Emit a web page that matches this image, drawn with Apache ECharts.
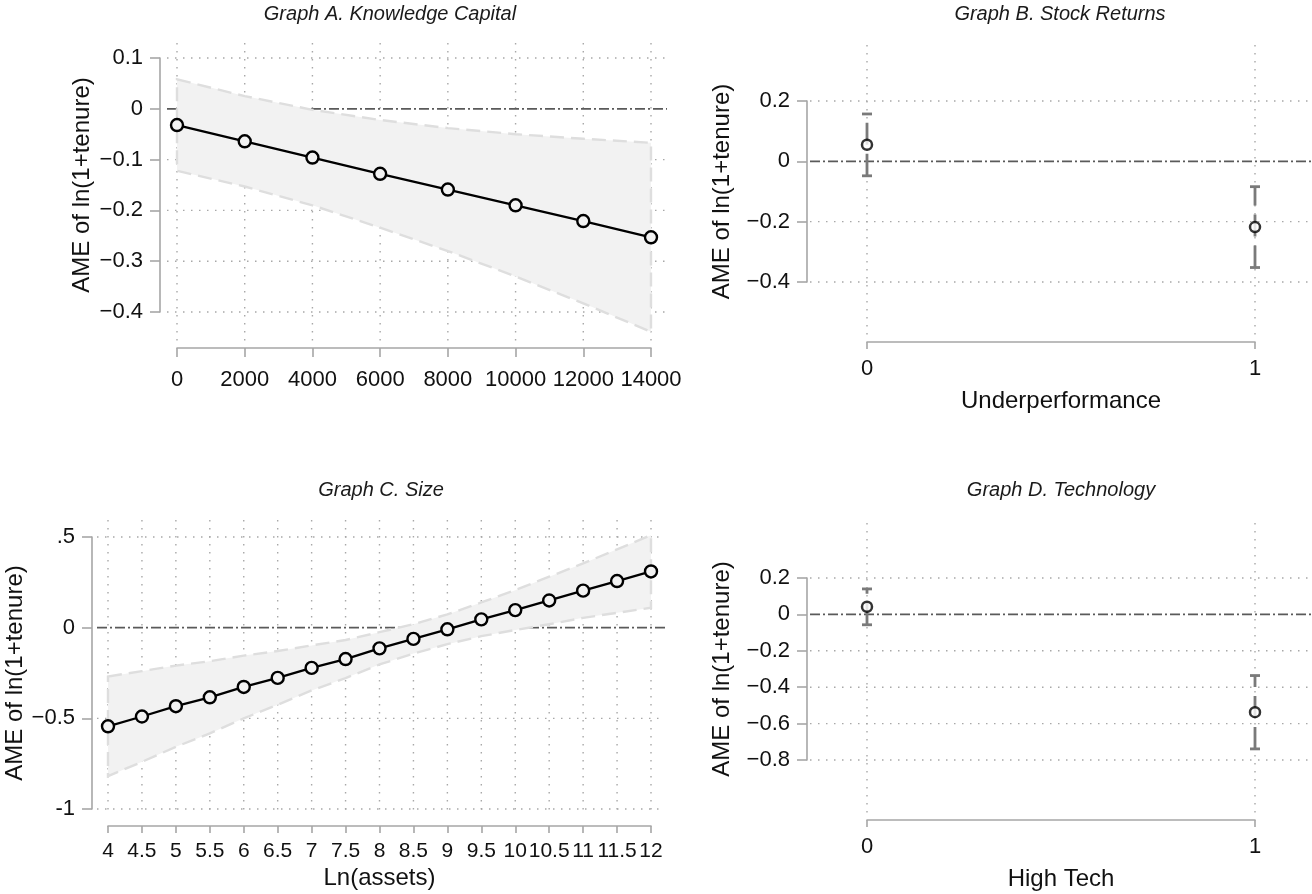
<!DOCTYPE html>
<html>
<head>
<meta charset="utf-8">
<script src="https://cdn.jsdelivr.net/npm/echarts@6/dist/echarts.min.js"></script>
<style>
  html, body { margin: 0; background: #fff; }
  #chart { width: 1312px; height: 894px; }
</style>
</head>
<body>
<div id="chart"></div>
<script>
// Graph A. Knowledge Capital
const aX = [0, 2000, 4000, 6000, 8000, 10000, 12000, 14000];
const aEst = [-0.032, -0.064, -0.096, -0.128, -0.159, -0.190, -0.221, -0.253];
const aHi = [0.058, 0.025, -0.002, -0.022, -0.038, -0.050, -0.059, -0.067];
const aLo = [-0.122, -0.153, -0.190, -0.234, -0.280, -0.330, -0.383, -0.439];
const aYTicks = [-0.4, -0.3, -0.2, -0.1, 0, 0.1];
const aYLabels = ['\u22120.4', '\u22120.3', '\u22120.2', '\u22120.1', '0', '0.1'];

// Graph B. Stock Returns
const bX = [0, 1];
const bEst = [0.055, -0.218];
const bLo = [-0.048, -0.352];
const bHi = [0.157, -0.084];
const bYTicks = [-0.4, -0.2, 0, 0.2];
const bYLabels = ['\u22120.4', '\u22120.2', '0', '0.2'];

// Graph C. Size
const cX = [4, 4.5, 5, 5.5, 6, 6.5, 7, 7.5, 8, 8.5, 9, 9.5, 10, 10.5, 11, 11.5, 12];
const cEst = [-0.544, -0.490, -0.433, -0.384, -0.327, -0.277, -0.222, -0.173, -0.114,
              -0.062, -0.009, 0.046, 0.097, 0.150, 0.204, 0.257, 0.310];
const cHi = [-0.269, -0.240, -0.209, -0.185, -0.154, -0.129, -0.098, -0.068, -0.025,
             0.019, 0.073, 0.139, 0.207, 0.281, 0.354, 0.432, 0.510];
const cLo = [-0.819, -0.740, -0.657, -0.583, -0.500, -0.425, -0.346, -0.278, -0.203,
             -0.143, -0.091, -0.047, -0.013, 0.019, 0.054, 0.082, 0.110];
const cYTicks = [-1, -0.5, 0, 0.5];
const cYLabels = ['-1', '\u22120.5', '0', '.5'];

// Graph D. Technology
const dX = [0, 1];
const dEst = [0.042, -0.537];
const dLo = [-0.057, -0.739];
const dHi = [0.140, -0.336];
const dYTicks = [-0.8, -0.6, -0.4, -0.2, 0, 0.2];
const dYLabels = ['\u22120.8', '\u22120.6', '\u22120.4', '\u22120.2', '0', '0.2'];

const FONT = '"Liberation Sans", Arial, Helvetica, sans-serif';
const AXIS_GRAY = '#a6a6a6';

// pixel layout of each panel: tick box, plot region, axis offsets
const panels = [
  { title: 'Graph A. Knowledge Capital', tx: [177, 651], ty: [58, 312], plot: [167, 667, 43, 342],
    yOff: 17, xOff: 36, titlePos: [390, 14], yGap: 66, xMargin: 21, xTick: 9,
    xTicks: aX, xStep: 2000, xLabels: aX.map(String), xFont: 22, xName: '',
    yTicks: aYTicks, yStep: 0.1, yLabels: aYLabels, kind: 'band',
    xs: aX, est: aEst, lo: aLo, hi: aHi },
  { title: 'Graph B. Stock Returns', tx: [867, 1255], ty: [101, 282], plot: [810, 1312, 45, 335],
    yOff: 60, xOff: 60, titlePos: [1060, 14], yGap: 73, xGap: 47, xMargin: 16, xTick: 7,
    xTicks: bX, xStep: 1, xLabels: ['0', '1'], xFont: 22, xName: 'Underperformance',
    yTicks: bYTicks, yStep: 0.2, yLabels: bYLabels, kind: 'bars',
    xs: bX, est: bEst, lo: bLo, hi: bHi },
  { title: 'Graph C. Size', tx: [108, 651], ty: [537, 809], plot: [97, 665, 520, 815],
    yOff: 16, xOff: 17, titlePos: [381, 490], yGap: 64, xGap: 40, xMargin: 15, xTick: 7,
    xTicks: cX, xStep: 0.5, xLabels: cX.map(String), xFont: 21, xName: 'Ln(assets)',
    yTicks: cYTicks, yStep: 0.5, yLabels: cYLabels, kind: 'band',
    xs: cX, est: cEst, lo: cLo, hi: cHi },
  { title: 'Graph D. Technology', tx: [867, 1255], ty: [578, 760], plot: [810, 1312, 523, 813],
    yOff: 60, xOff: 60, titlePos: [1061, 490], yGap: 73, xGap: 47, xMargin: 16, xTick: 7,
    xTicks: dX, xStep: 1, xLabels: ['0', '1'], xFont: 22, xName: 'High Tech',
    yTicks: dYTicks, yStep: 0.2, yLabels: dYLabels, kind: 'bars',
    xs: dX, est: dEst, lo: dLo, hi: dHi }
];

function lookup(ticks, labels) {
  return function (v) {
    const i = ticks.findIndex(t => Math.abs(t - v) < 1e-6);
    return i < 0 ? '' : labels[i];
  };
}

const grid = [], xAxis = [], yAxis = [], series = [], graphic = [];

panels.forEach((p, k) => {
  const gA = 2 * k, gP = 2 * k + 1;
  const xMin = p.xTicks[0], xMax = p.xTicks[p.xTicks.length - 1];
  const yMin = p.yTicks[0], yMax = p.yTicks[p.yTicks.length - 1];
  // scale of the plot region so it lines up with the tick box
  const sx = (xMax - xMin) / (p.tx[1] - p.tx[0]);
  const sy = (yMax - yMin) / (p.ty[1] - p.ty[0]);
  const pxMin = xMin - (p.tx[0] - p.plot[0]) * sx;
  const pxMax = xMax + (p.plot[1] - p.tx[1]) * sx;
  const pyMax = yMax + (p.ty[0] - p.plot[2]) * sy;
  const pyMin = yMin - (p.plot[3] - p.ty[1]) * sy;

  grid.push({ left: p.tx[0], top: p.ty[0], width: p.tx[1] - p.tx[0], height: p.ty[1] - p.ty[0], outerBoundsMode: 'none' });
  grid.push({ left: p.plot[0], top: p.plot[2], width: p.plot[1] - p.plot[0], height: p.plot[3] - p.plot[2], outerBoundsMode: 'none' });

  xAxis.push({
    gridIndex: gA, type: 'value', min: xMin, max: xMax, interval: p.xStep,
    position: 'bottom', offset: p.xOff,
    axisLine: { onZero: false, lineStyle: { color: AXIS_GRAY, width: 1.6 } },
    axisTick: { length: p.xTick, lineStyle: { color: AXIS_GRAY, width: 1.6 } },
    axisLabel: { formatter: lookup(p.xTicks, p.xLabels), color: '#111', fontSize: p.xFont,
                 fontFamily: FONT, margin: p.xMargin, hideOverlap: false, showMinLabel: true, showMaxLabel: true },
    splitLine: { show: false },
    name: p.xName, nameLocation: 'middle', nameGap: p.xGap || 40,
    nameTextStyle: { fontSize: 24, fontFamily: FONT, color: '#111' }
  });
  xAxis.push({ gridIndex: gP, type: 'value', min: pxMin, max: pxMax, show: false });

  yAxis.push({
    gridIndex: gA, type: 'value', min: yMin, max: yMax, interval: p.yStep,
    position: 'left', offset: p.yOff,
    axisLine: { show: true, onZero: false, lineStyle: { color: AXIS_GRAY, width: 1.6 } },
    axisTick: { show: true, length: 10, lineStyle: { color: AXIS_GRAY, width: 1.6 } },
    axisLabel: { formatter: lookup(p.yTicks, p.yLabels), color: '#111', fontSize: 22,
                 fontFamily: FONT, margin: 17, showMinLabel: true, showMaxLabel: true },
    splitLine: { show: false },
    name: 'AME of ln(1+tenure)', nameLocation: 'middle', nameGap: p.yGap,
    nameTextStyle: { fontSize: 24, fontFamily: FONT, color: '#111' }
  });
  yAxis.push({ gridIndex: gP, type: 'value', min: pyMin, max: pyMax, show: false });

  // dotted grid lines over the whole plot region
  series.push({
    type: 'custom', xAxisIndex: gP, yAxisIndex: gP, z: 1, silent: true,
    data: p.xTicks.map(v => [v, 0]),
    renderItem: (params, api) => {
      const cs = params.coordSys;
      const pt = api.coord([api.value(0), api.value(1)]);
      return { type: 'line', shape: { x1: pt[0], y1: cs.y, x2: pt[0], y2: cs.y + cs.height },
               style: { stroke: '#a8a8a8', lineWidth: 1.4, lineDash: [1.5, 6.5] } };
    }
  });
  series.push({
    type: 'custom', xAxisIndex: gP, yAxisIndex: gP, z: 1, silent: true,
    data: p.yTicks.filter(v => v !== 0).map(v => [xMin, v]),
    renderItem: (params, api) => {
      const cs = params.coordSys;
      const pt = api.coord([api.value(0), api.value(1)]);
      return { type: 'line', shape: { x1: cs.x, y1: pt[1], x2: cs.x + cs.width, y2: pt[1] },
               style: { stroke: '#a8a8a8', lineWidth: 1.4, lineDash: [1.5, 6.5] } };
    }
  });
  // zero reference line
  series.push({
    type: 'custom', xAxisIndex: gP, yAxisIndex: gP, z: 2, silent: true,
    data: [[xMin, 0]],
    renderItem: (params, api) => {
      const cs = params.coordSys;
      const pt = api.coord([api.value(0), api.value(1)]);
      return { type: 'line', shape: { x1: cs.x, y1: pt[1], x2: cs.x + cs.width, y2: pt[1] },
               style: { stroke: '#5a5a5a', lineWidth: 1.8, lineDash: [10, 3, 2, 3] } };
    }
  });

  if (p.kind === 'band') {
    series.push({
      type: 'custom', xAxisIndex: gA, yAxisIndex: gA, z: 3, silent: true,
      data: p.xs.map((x, i) => [x, p.lo[i], p.hi[i]]),
      renderItem: (params, api) => {
        if (params.dataIndexInside !== 0) return null;
        const n = params.dataInsideLength;
        const up = [], dn = [];
        for (let i = 0; i < n; i++) {
          up.push(api.coord([api.value(0, i), api.value(2, i)]));
          dn.push(api.coord([api.value(0, i), api.value(1, i)]));
        }
        return { type: 'polygon', shape: { points: up.concat(dn.reverse()) },
                 style: { fill: '#f2f2f2', stroke: '#dedede', lineWidth: 2.4, lineDash: [14, 7] } };
      }
    });
    series.push({
      type: 'line', xAxisIndex: gA, yAxisIndex: gA, z: 5, clip: false, silent: true,
      data: p.xs.map((x, i) => [x, p.est[i]]),
      symbol: 'circle', symbolSize: 12,
      itemStyle: { color: '#f2f2f2', borderColor: '#000', borderWidth: 2.4 },
      lineStyle: { color: '#000', width: 2.3 }
    });
  } else {
    series.push({
      type: 'custom', xAxisIndex: gA, yAxisIndex: gA, z: 4, silent: true,
      data: p.xs.map((x, i) => [x, p.lo[i], p.hi[i]]),
      renderItem: (params, api) => {
        const lo = api.coord([api.value(0), api.value(1)]);
        const hi = api.coord([api.value(0), api.value(2)]);
        const st = { stroke: '#7a7a7a', lineWidth: 2.8 };
        return { type: 'group', children: [
          { type: 'line', shape: { x1: lo[0], y1: lo[1], x2: hi[0], y2: hi[1] },
            style: Object.assign({ lineDash: [22, 9] }, st) },
          { type: 'line', shape: { x1: lo[0] - 5, y1: lo[1], x2: lo[0] + 5, y2: lo[1] }, style: st },
          { type: 'line', shape: { x1: hi[0] - 5, y1: hi[1], x2: hi[0] + 5, y2: hi[1] }, style: st }
        ] };
      }
    });
    series.push({
      type: 'scatter', xAxisIndex: gA, yAxisIndex: gA, z: 6, clip: false, silent: true,
      data: p.xs.map((x, i) => [x, p.est[i]]),
      symbol: 'circle', symbolSize: 10,
      itemStyle: { color: '#fff', borderColor: '#000', borderWidth: 2.5 }
    });
  }

  graphic.push({
    type: 'text', x: p.titlePos[0], y: p.titlePos[1],
    style: { text: p.title, fontSize: 20, fontStyle: 'italic', fontFamily: FONT,
             fill: '#1a1a1a', align: 'center', verticalAlign: 'middle' }
  });
});

const chart = echarts.init(document.getElementById('chart'));
chart.setOption({
  animation: false,
  backgroundColor: '#fff',
  grid, xAxis, yAxis, series, graphic
});
window.addEventListener('resize', () => chart.resize());
</script>
</body>
</html>
